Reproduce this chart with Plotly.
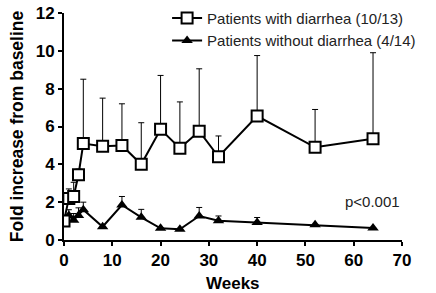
import plotly.graph_objects as go

weeks = [0, 1, 2, 3, 4, 8, 12, 16, 20, 24, 28, 32, 40, 52, 64]
with_diarrhea = [1.0, 2.2, 2.3, 3.45, 5.1, 4.95, 5.0, 4.0, 5.85, 4.85, 5.75, 4.4, 6.55, 4.9, 5.35]
with_err = [0.1, 0.5, 0.75, 0.3, 3.4, 2.55, 2.2, 2.2, 2.85, 2.45, 3.3, 1.1, 3.2, 2.0, 4.55]
without_diarrhea = [1.0, 1.3, 1.05, 1.3, 1.6, 0.7, 1.85, 1.2, 0.62, 0.57, 1.27, 1.02, 0.93, 0.8, 0.63]
without_err = [0.05, 0.3, 0.35, 0.4, 0.4, 0.0, 0.45, 0.42, 0.0, 0.0, 0.45, 0.25, 0.26, 0.0, 0.0]
x_ticks = [0, 10, 20, 30, 40, 50, 60, 70]
y_ticks = [0, 2, 4, 6, 8, 10, 12]

fig = go.Figure()
fig.add_trace(go.Scatter(
    x=weeks, y=without_diarrhea, mode="lines+markers",
    name="Patients without diarrhea (4/14)",
    line=dict(color="black", width=2),
    marker=dict(symbol="triangle-up", size=10, color="black"),
    error_y=dict(type="data", symmetric=False, array=without_err,
                 arrayminus=[0] * len(weeks), color="black", thickness=1, width=3),
))
fig.add_trace(go.Scatter(
    x=weeks, y=with_diarrhea, mode="lines+markers",
    name="Patients with diarrhea (10/13)",
    line=dict(color="black", width=2),
    marker=dict(symbol="square", size=11, color="white", line=dict(color="black", width=2)),
    error_y=dict(type="data", symmetric=False, array=with_err,
                 arrayminus=[0] * len(weeks), color="black", thickness=1, width=3),
))

fig.add_annotation(x=70, y=2.05, text="p<0.001", showarrow=False,
                   xanchor="right", yanchor="middle", font=dict(size=15, color="#222"))
fig.add_annotation(x=0.5, y=0, xref="paper", yref="paper", yshift=-43,
                   text="<b>Weeks</b>", showarrow=False, xanchor="center", yanchor="middle",
                   font=dict(size=17, color="black"))

fig.update_layout(
    width=436, height=293,
    margin=dict(l=64, r=34, t=13, b=53, autoexpand=False),
    paper_bgcolor="white", plot_bgcolor="white",
    font=dict(family="Liberation Sans, Arial, sans-serif", color="black"),
    showlegend=True,
    legend=dict(x=0.305, y=1.05, xanchor="left", yanchor="top",
                traceorder="reversed", font=dict(size=15, color="#222"),
                bgcolor="rgba(0,0,0,0)", itemwidth=30, tracegroupgap=0),
    xaxis=dict(range=[0, 70], tickvals=x_ticks, ticktext=[f"<b>{v}</b>" for v in x_ticks],
               showline=True, linecolor="black", linewidth=2, ticks="outside",
               tickwidth=2, ticklen=4, tickcolor="black", showgrid=False, zeroline=False,
               tickfont=dict(size=17)),
    yaxis=dict(range=[0, 12], tickvals=y_ticks, ticktext=[f"<b>{v}</b>" for v in y_ticks],
               showline=True, linecolor="black", linewidth=2, ticks="outside",
               tickwidth=2, ticklen=4, tickcolor="black", showgrid=False, zeroline=False,
               tickfont=dict(size=17),
               title=dict(text="<b>Fold increase from baseline</b>", font=dict(size=17.5), standoff=8)),
)

fig.write_html("out.html", config={"displayModeBar": False},
               post_script="document.body.style.margin='0';")
